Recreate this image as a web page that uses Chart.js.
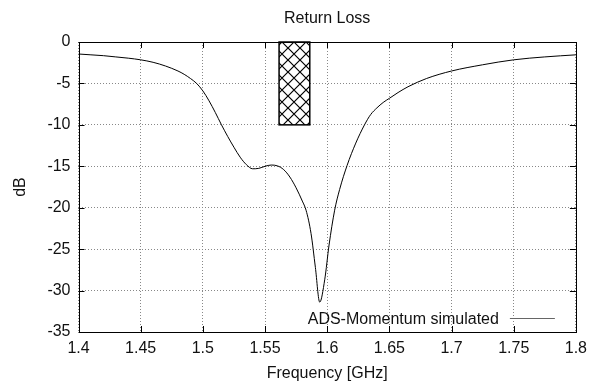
<!DOCTYPE html>
<html>
<head>
<meta charset="utf-8">
<title>Return Loss</title>
<script src="https://cdn.jsdelivr.net/npm/chart.js@4.4.1/dist/chart.umd.min.js"></script>
<style>
  html, body { margin: 0; padding: 0; background: #fff; }
  #wrap { width: 594px; height: 383px; }
</style>
</head>
<body>
<div id="wrap"><canvas id="myChart" width="594" height="383"></canvas></div>
<script>
const chartTitle = "Return Loss";
const seriesLabel = "ADS-Momentum simulated";

// simulated S11
const freqGHz = [
  1.4, 1.41, 1.42, 1.43, 1.44, 1.45, 1.46, 1.47, 1.48, 1.485,
  1.49, 1.495, 1.5, 1.505, 1.51, 1.515, 1.52, 1.525, 1.53, 1.535,
  1.54, 1.545, 1.55, 1.555, 1.56, 1.565, 1.57, 1.575, 1.58, 1.583,
  1.587, 1.5905, 1.594, 1.598, 1.6015, 1.606, 1.61, 1.616, 1.623, 1.63,
  1.635, 1.64, 1.645, 1.65, 1.657, 1.665, 1.68, 1.7, 1.725, 1.75,
  1.775, 1.8
];
const returnLossDb = [
  -1.45, -1.55, -1.65, -1.8, -1.95, -2.15, -2.45, -2.9, -3.5, -3.9,
  -4.4, -5.0, -5.9, -7.1, -8.5, -10.0, -11.4, -12.7, -13.9, -14.8,
  -15.3, -15.25, -15.0, -14.85, -14.95, -15.4, -16.3, -17.6, -19.2, -20.3,
  -23.1, -27.2, -31.4, -28.7, -24.5, -20.3, -17.8, -14.9, -12.2, -10.0,
  -8.75, -7.95, -7.3, -6.8, -6.1, -5.4, -4.4, -3.5, -2.75, -2.15,
  -1.8, -1.55
];

// hatched specification box
const bandFreq = [1.5613, 1.586];
const bandDb = [-10, 0];

const xTickValues = [1.4, 1.45, 1.5, 1.55, 1.6, 1.65, 1.7, 1.75, 1.8];
const yTickValues = [-35, -30, -25, -20, -15, -10, -5, 0];

const fontFamily = "'Liberation Sans', Arial, Helvetica, sans-serif";
const textColor = "#111";

function makeHatch() {
  let c = document.createElement("canvas");
  c.width = 12;
  c.height = 12;
  let g = c.getContext("2d");
  g.fillStyle = "#fff";
  g.fillRect(0, 0, 12, 12);
  g.strokeStyle = "#000";
  g.lineWidth = 1.2;
  g.beginPath();
  g.moveTo(0, 0); g.lineTo(12, 12);
  g.moveTo(0, 12); g.lineTo(12, 0);
  g.stroke();
  return g.createPattern(c, "repeat");
}

// box with crosshatch, drawn behind the curve
const bandPlugin = {
  id: "bandPlugin",
  beforeDatasetsDraw(chart) {
    let ctx = chart.ctx;
    let x = chart.scales.x;
    let y = chart.scales.y;
    let x0 = x.getPixelForValue(bandFreq[0]);
    let x1 = x.getPixelForValue(bandFreq[1]);
    let y0 = y.getPixelForValue(bandDb[1]);
    let y1 = y.getPixelForValue(bandDb[0]);
    ctx.save();
    ctx.fillStyle = makeHatch();
    ctx.fillRect(x0, y0, x1 - x0, y1 - y0);
    ctx.strokeStyle = "#000";
    ctx.lineWidth = 1.5;
    ctx.strokeRect(x0, y0, x1 - x0, y1 - y0);
    ctx.restore();
  }
};

// frame, inward ticks, title and gnuplot style key
const framePlugin = {
  id: "framePlugin",
  afterDatasetsDraw(chart) {
    let ctx = chart.ctx;
    let a = chart.chartArea;
    let x = chart.scales.x;
    let y = chart.scales.y;
    ctx.save();
    ctx.strokeStyle = "#000";
    ctx.lineWidth = 1;
    ctx.strokeRect(Math.round(a.left) + 0.5, Math.round(a.top) + 0.5,
      Math.round(a.right - a.left), Math.round(a.bottom - a.top));

    ctx.beginPath();
    for (let v of xTickValues) {
      let px = Math.round(x.getPixelForValue(v)) + 0.5;
      ctx.moveTo(px, a.bottom); ctx.lineTo(px, a.bottom - 6);
      ctx.moveTo(px, a.top); ctx.lineTo(px, a.top + 6);
    }
    for (let v of yTickValues) {
      let py = Math.round(y.getPixelForValue(v)) + 0.5;
      ctx.moveTo(a.left, py); ctx.lineTo(a.left + 6, py);
      ctx.moveTo(a.right, py); ctx.lineTo(a.right - 6, py);
    }
    ctx.stroke();

    ctx.fillStyle = textColor;
    ctx.font = "16px " + fontFamily;
    ctx.textAlign = "center";
    ctx.textBaseline = "alphabetic";
    ctx.fillText(chartTitle, (a.left + a.right) / 2, 23);

    // key in lower right corner
    let keyY = a.bottom - 14;
    ctx.textAlign = "right";
    ctx.fillText(chart.data.datasets[0].label, a.right - 77, keyY + 5.5);
    ctx.strokeStyle = "#666";
    ctx.beginPath();
    ctx.moveTo(a.right - 66, Math.round(keyY) + 0.5);
    ctx.lineTo(a.right - 21, Math.round(keyY) + 0.5);
    ctx.stroke();
    ctx.restore();
  }
};

let points = [];
for (let i = 0; i < freqGHz.length; i++) {
  points.push({ x: freqGHz[i], y: returnLossDb[i] });
}

let ctx = document.getElementById("myChart").getContext("2d");
let chart = new Chart(ctx, {
  type: "line",
  data: {
    datasets: [
      {
        label: seriesLabel,
        data: points,
        borderColor: "#000",
        borderWidth: 1,
        pointRadius: 0,
        fill: false,
        cubicInterpolationMode: "monotone"
      }
    ]
  },
  options: {
    responsive: false,
    animation: false,
    layout: { padding: { top: 42, right: 14, left: 0, bottom: 0 } },
    plugins: {
      legend: { display: false },
      title: { display: false },
      tooltip: { enabled: false }
    },
    scales: {
      x: {
        type: "linear",
        min: 1.4,
        max: 1.8,
        afterBuildTicks: axis => {
          axis.ticks = xTickValues.map(v => ({ value: v }));
        },
        afterFit: axis => {
          axis.height = 51;
        },
        grid: {
          color: "#888",
          lineWidth: 1,
          drawTicks: false
        },
        border: { display: false, dash: [1, 2] },
        ticks: {
          padding: 7,
          color: textColor,
          font: { family: fontFamily, size: 16 },
          callback: v => Number(v.toFixed(2)).toString()
        },
        title: {
          display: true,
          text: "Frequency [GHz]",
          color: textColor,
          font: { family: fontFamily, size: 16, lineHeight: 1.2 },
          padding: { top: 5, bottom: 0 }
        }
      },
      y: {
        type: "linear",
        min: -35,
        max: 0,
        afterBuildTicks: axis => {
          axis.ticks = yTickValues.map(v => ({ value: v }));
        },
        afterFit: axis => {
          axis.width = 78.5;
        },
        grid: {
          color: "#888",
          lineWidth: 1,
          drawTicks: false
        },
        border: { display: false, dash: [1, 2] },
        ticks: {
          padding: 8,
          color: textColor,
          font: { family: fontFamily, size: 16 }
        },
        title: {
          display: true,
          text: "dB",
          color: textColor,
          font: { family: fontFamily, size: 16, lineHeight: 1.2 },
          padding: { top: 11, bottom: 0 }
        }
      }
    }
  },
  plugins: [bandPlugin, framePlugin]
});
</script>
</body>
</html>
